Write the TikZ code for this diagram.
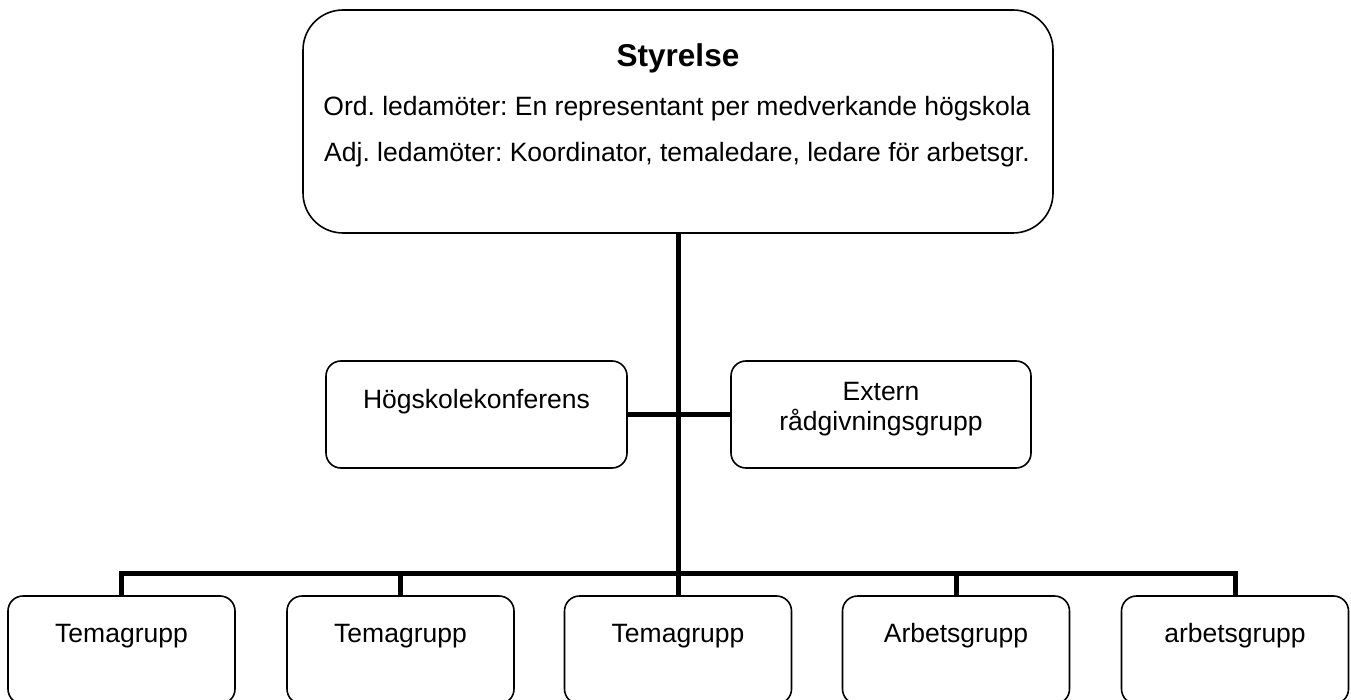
\documentclass[tikz,border=0pt]{standalone}
\usepackage{fontspec}
\setmainfont{Liberation Sans}
\begin{document}
\frenchspacing
\begin{tikzpicture}[x=1pt,y=-1pt,
  box/.style={draw=black,line width=1.6pt,rounded corners=15pt,inner sep=0pt,fill=white},
  bigbox/.style={box,rounded corners=40pt},
  conn/.style={draw=black,line width=5pt},
  txt/.style={font=\fontsize{26.5}{30}\selectfont,inner sep=0pt,anchor=base},
  ttl/.style={font=\fontsize{31.5}{36}\bfseries\selectfont,inner sep=0pt,anchor=base}]
\useasboundingbox (0,0) rectangle (1351,700);
\clip (0,0) rectangle (1351,700);
% boxes
\node[bigbox,minimum width=750pt,minimum height=223pt] (top) at (678,121.5) {};
\node[box,minimum width=301pt,minimum height=107pt] (hog) at (476.5,414.5) {};
\node[box,minimum width=300pt,minimum height=107pt] (ext) at (881,414.5) {};
\coordinate (bus) at (678,573);
\foreach \n/\x in {b1/121.5,b2/400.5,b3/678,b4/956,b5/1235}{
  \node[box,minimum width=227pt,minimum height=108pt] (\n) at (\x,650) {};
}
% connectors
\draw[conn] (top.south) -- (b3.north);
\draw[conn] (hog.east) -- (ext.west);
\draw[conn] (b1.north) -- (b1.north |- bus) -- (b5.north |- bus) -- (b5.north);
\draw[conn] (b2.north) -- (b2.north |- bus);
\draw[conn] (b4.north) -- (b4.north |- bus);
% texts
\node[ttl] (t0) at (678,67) {Styrelse};
\node[txt] (t1) at (677,116) {Ord. ledamöter: En representant per medverkande högskola};
\node[txt] (t2) at (677,162) {Adj. ledamöter: Koordinator, temaledare, ledare för arbetsgr.};
\node[txt] (th) at (476.5,408) {Högskolekonferens};
\node[txt] (te1) at (881,400) {Extern};
\node[txt] (te2) at (881,430) {rådgivningsgrupp};
\node[txt] (l1) at (121.5,642) {Temagrupp};
\node[txt] (l2) at (400.5,642) {Temagrupp};
\node[txt] (l3) at (678,642) {Temagrupp};
\node[txt] (l4) at (956,642) {Arbetsgrupp};
\node[txt] (l5) at (1235,642) {arbetsgrupp};
\end{tikzpicture}
\end{document}
